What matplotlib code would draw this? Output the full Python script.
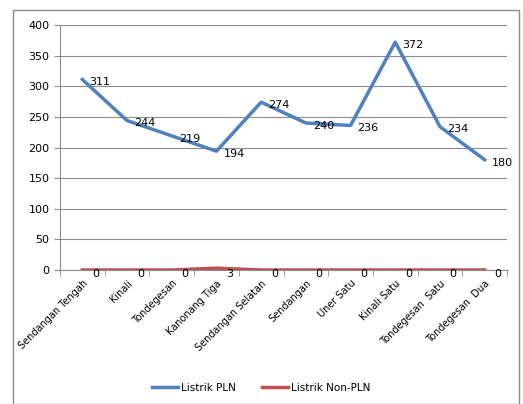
import matplotlib.pyplot as plt
from matplotlib.patches import Rectangle

plt.rcParams['font.family'] = ['Liberation Sans Narrow', 'DejaVu Sans']

desa = ['Sendangan Tengah', 'Kinali', 'Tondegesan', 'Kanonang Tiga',
        'Sendangan Selatan', 'Sendangan', 'Uner Satu', 'Kinali Satu',
        'Tondegesan  Satu', 'Tondegesan  Dua']
pln = [311, 244, 219, 194, 274, 240, 236, 372, 234, 180]
non_pln = [0, 0, 0, 3, 0, 0, 0, 0, 0, 0]

fig = plt.figure(figsize=(5.23, 4.04), dpi=100)
fig.patches.append(Rectangle((13 / 523, 0), 506 / 523, 394 / 404, transform=fig.transFigure,
                             fill=False, edgecolor='#8c8c8c', linewidth=1))
ax = fig.add_axes([60 / 523, 1 - 270 / 404, 447 / 523, 245 / 404])

x = list(range(len(desa)))
ax.plot(x, pln, color='#4F81BD', linewidth=2.5, label='Listrik PLN')
ax.plot(x, non_pln, color='#C0504D', linewidth=2.5, label='Listrik Non-PLN')

for i, v in enumerate(pln):
    ax.annotate(str(v), (i, v), xytext=(5, -2), textcoords='offset points',
                ha='left', va='center', fontsize=8)
for i, v in enumerate(non_pln):
    ax.annotate(str(v), (i, 0), xytext=(7, -3), textcoords='offset points',
                ha='left', va='center', fontsize=8)

ax.set_xlim(-0.5, len(desa) - 0.5)
ax.set_ylim(0, 400)
ax.set_yticks(range(0, 401, 50))
ax.grid(axis='y', color='#8c8c8c', linewidth=0.8)
ax.set_axisbelow(True)

ax.set_xticks(x)
ax.set_xticklabels(desa, rotation=45, ha='right', rotation_mode='anchor', fontsize=7)
ax.set_xticks([i + 0.5 for i in range(-1, len(desa))], minor=True)
ax.tick_params(axis='x', which='major', length=0, pad=6)
ax.tick_params(axis='x', which='minor', length=4, color='#8c8c8c')
ax.tick_params(axis='y', length=4, color='#8c8c8c', labelsize=8)

for s in ['top', 'right']:
    ax.spines[s].set_visible(False)
ax.spines['left'].set_color('#8c8c8c')
ax.spines['bottom'].set_color('#8c8c8c')

fig.legend(loc='center', bbox_to_anchor=(0.5, 1 - 388 / 404), ncol=2, frameon=False,
           fontsize=7.5, handlelength=2.5, columnspacing=2.5, handletextpad=0.3)

plt.savefig('out.png', dpi=100)
